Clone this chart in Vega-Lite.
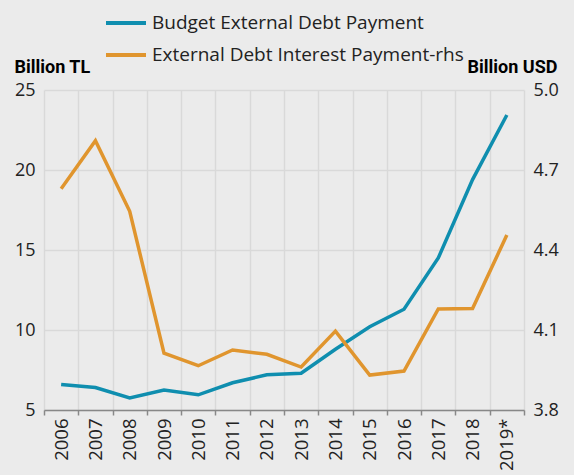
{
  "$schema": "https://vega.github.io/schema/vega-lite/v6.json",
  "autosize": "none",
  "width": 480,
  "height": 320,
  "padding": {"left": 44, "top": 90, "right": 50, "bottom": 65},
  "background": "#ebebeb",
  "config": {
    "view": {"stroke": null},
    "font": "Open Sans",
    "axis": {"labelFont": "Open Sans", "labelColor": "#222222", "titleColor": "#000000"}
  },
  "data": {
    "values": [
      {"year": "2006", "tl": 6.6, "usd": 4.63},
      {"year": "2007", "tl": 6.4, "usd": 4.81},
      {"year": "2008", "tl": 5.75, "usd": 4.545},
      {"year": "2009", "tl": 6.25, "usd": 4.013},
      {"year": "2010", "tl": 5.95, "usd": 3.966},
      {"year": "2011", "tl": 6.7, "usd": 4.025},
      {"year": "2012", "tl": 7.2, "usd": 4.009},
      {"year": "2013", "tl": 7.3, "usd": 3.961},
      {"year": "2014", "tl": 8.8, "usd": 4.096},
      {"year": "2015", "tl": 10.2, "usd": 3.931},
      {"year": "2016", "tl": 11.3, "usd": 3.946},
      {"year": "2017", "tl": 14.5, "usd": 4.179},
      {"year": "2018", "tl": 19.4, "usd": 4.181},
      {"year": "2019*", "tl": 23.44, "usd": 4.456}
    ]
  },
  "encoding": {
    "x": {
      "field": "year",
      "type": "ordinal",
      "sort": null,
      "scale": {"type": "band", "paddingInner": 0, "paddingOuter": 0},
      "axis": {
        "title": null,
        "labelAngle": -90,
        "labelFontSize": 18.5,
        "labelPadding": 3,
        "tickBand": "extent",
        "grid": true,
        "gridColor": "#d9d9d9",
        "gridWidth": 1.5,
        "domainColor": "#888888",
        "domainWidth": 1.5,
        "tickColor": "#888888",
        "tickWidth": 1.5,
        "tickSize": 5
      }
    }
  },
  "layer": [
    {
      "mark": {"type": "line", "strokeWidth": 3.5},
      "encoding": {
        "y": {
          "field": "tl",
          "type": "quantitative",
          "scale": {"domain": [5, 25], "nice": false, "zero": false},
          "axis": {
            "orient": "left",
            "values": [5, 10, 15, 20, 25],
            "title": "Billion TL",
            "titleAngle": 0,
            "titleX": -30,
            "titleY": -23,
            "titleAlign": "left",
            "titleBaseline": "middle",
            "titleFontSize": 18,
            "titleFontWeight": "bold",
            "titleFont": "Roboto",
            "labelFontSize": 18,
            "labelPadding": 9,
            "domain": false,
            "ticks": false,
            "grid": true,
            "gridColor": "#d9d9d9",
            "gridWidth": 1.5
          }
        },
        "color": {
          "datum": "Budget External Debt Payment",
          "scale": {
            "domain": ["Budget External Debt Payment", "External Debt Interest Payment-rhs"],
            "range": ["#0f8eaf", "#e0952e"]
          },
          "legend": {
            "title": null,
            "orient": "none",
            "legendX": 60,
            "legendY": -89,
            "direction": "vertical",
            "symbolType": "stroke",
            "symbolSize": 1600,
            "symbolStrokeWidth": 4,
            "labelFontSize": 19,
            "labelFont": "Open Sans",
            "labelColor": "#222222",
            "labelOffset": 4,
            "rowPadding": 0,
            "labelLimit": 400
          }
        }
      }
    },
    {
      "mark": {"type": "line", "strokeWidth": 3.5},
      "encoding": {
        "y": {
          "field": "usd",
          "type": "quantitative",
          "scale": {"domain": [3.8, 5.0], "nice": false, "zero": false},
          "axis": {
            "orient": "right",
            "values": [3.8, 4.1, 4.4, 4.7, 5.0],
            "format": ".1f",
            "title": "Billion USD",
            "titleAngle": 0,
            "titleX": 33,
            "titleY": -23,
            "titleAlign": "right",
            "titleBaseline": "middle",
            "titleFontSize": 18,
            "titleFontWeight": "bold",
            "titleFont": "Roboto",
            "labelFontSize": 18,
            "labelPadding": 9,
            "domain": false,
            "ticks": false,
            "grid": false
          }
        },
        "color": {"datum": "External Debt Interest Payment-rhs"}
      }
    }
  ],
  "resolve": {"scale": {"y": "independent"}}
}
